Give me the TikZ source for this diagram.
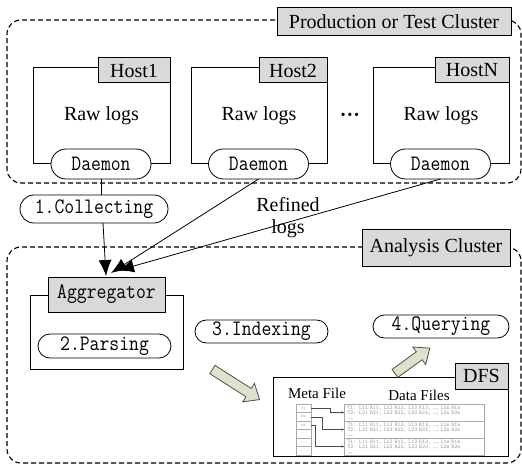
\documentclass[tikz,border=0pt]{standalone}
\usepackage{fontspec}
\usepackage{graphicx}
\setmainfont{Liberation Serif}
\usetikzlibrary{shapes.misc,shapes.arrows,arrows.meta,calc}
\definecolor{tagfill}{RGB}{217,217,217}
\definecolor{arrowfill}{RGB}{222,226,204}
\definecolor{arrowline}{RGB}{80,80,70}
\definecolor{insetline}{RGB}{170,170,170}
\definecolor{insettext}{RGB}{150,150,150}
% narrow, tall monospace used for process labels
\newcommand\mono[1]{\scalebox{0.87}[1]{\fontsize{22}{24}\selectfont\ttfamily #1}}
\begin{document}
\begin{tikzpicture}[x=1pt,y=-1pt,
  line width=0.8pt,
  every node/.style={inner sep=0pt, outer sep=0pt},
  cluster/.style={draw, dash pattern=on 5pt off 3pt, rounded corners=14pt, line width=1.1pt},
  tag/.style={draw, fill=tagfill, line width=1pt, font=\fontsize{20}{22}\selectfont},
  hostbox/.style={draw, fill=white, minimum width=136pt, minimum height=96pt},
  plain/.style={font=\fontsize{20}{22}\selectfont},
  pill/.style={draw, fill=white, rounded rectangle},
  feed/.style={-{Latex[length=16pt,width=13pt]}},
  fat/.style={single arrow, draw=arrowline, fill=arrowfill, line width=0.8pt,
    single arrow head extend=6pt, single arrow tip angle=80, inner ysep=4.5pt, inner xsep=0pt},
  cell/.style={draw=insetline, line width=0.4pt, minimum width=15pt, minimum height=8.5pt,
    font=\fontsize{3.5}{4}\selectfont\ttfamily, text=insettext},
  blk/.style={draw=insetline, line width=0.5pt, minimum height=17pt, inner xsep=3pt,
    text width=134pt, align=left, font=\fontsize{5.6}{5.2}\selectfont\ttfamily, text=insettext},
  link/.style={line width=0.5pt, draw=black!70, -{Latex[length=3pt,width=2.5pt]}}
]
\useasboundingbox (0,0) rectangle (522,465);

% ---------- production / test cluster ----------
\node[cluster, minimum width=514pt, minimum height=163pt] (prod) at (264,101.5) {};
\node[tag, minimum width=234pt, minimum height=28pt] (prodtag) at (394,22) {Production or Test Cluster};

\node[hostbox, minimum width=137pt] (h1) at (101.5,115) {};
\node[hostbox] (h2) at (259,115) {};
\node[hostbox] (hn) at (441,115) {};

\node[tag, minimum width=72pt, minimum height=25pt] (h1tag) at (134,70.5) {Host1};
\node[tag, minimum width=68pt, minimum height=25pt] (h2tag) at (293,70.5) {Host2};
\node[tag, minimum width=74pt, minimum height=25pt] (hntag) at (472,70.5) {HostN};

\node[plain] (r1) at (101.5,116) {Raw logs};
\node[plain] (r2) at (259,116) {Raw logs};
\node[plain] (rn) at (441,116) {Raw logs};
\node[font=\bfseries\fontsize{20}{22}\selectfont] (ellip) at (350,117) {···};

\node[pill, minimum width=100pt, minimum height=30pt] (d1) at (101,164) {\mono{Daemon}};
\node[pill, minimum width=100pt, minimum height=30pt] (d2) at (258.5,164) {\mono{Daemon}};
\node[pill, minimum width=100pt, minimum height=30pt] (dn) at (440.5,164) {\mono{Daemon}};

% ---------- collection ----------
\node[pill, minimum width=148pt, minimum height=28pt] (collect) at (94,209) {\mono{1.Collecting}};
\node[plain, align=center] (refined) at (288,218) {Refined\\logs};

% ---------- analysis cluster ----------
\node[cluster, minimum width=514pt, minimum height=216pt] (ana) at (264,355) {};
\node[tag, minimum width=148pt, minimum height=36pt] (anatag) at (436,248) {Analysis Cluster};

\node[draw, fill=white, minimum width=153pt, minimum height=74pt] (agg) at (106.5,332) {};
\node[tag, line width=0.8pt, minimum width=117pt, minimum height=35pt] (aggtag) at (106.5,294.5) {\mono{Aggregator}};
\node[pill, minimum width=133pt, minimum height=24pt] (parse) at (104.5,346) {\mono{2.Parsing}};
\node[pill, minimum width=133pt, minimum height=23pt] (index) at (261.5,331.5) {\mono{3.Indexing}};
\node[pill, minimum width=136pt, minimum height=23pt] (query) at (441,326.5) {\mono{4.Querying}};

% ---------- DFS ----------
\node[draw, fill=white, minimum width=235pt, minimum height=79pt] (dfs) at (390.5,416.5) {};
\node[tag, minimum width=53pt, minimum height=26pt] (dfstag) at (481.5,376) {DFS};
\node[font=\fontsize{15}{17}\selectfont] (meta) at (317,393) {Meta File};
\node[font=\fontsize{15}{17}\selectfont] (data) at (419,395) {Data Files};

% meta file index cells
\node[cell] (c1) at (303.5,408.25) {N1};
\node[cell] (c2) at (303.5,416.75) {N2};
\node[cell] (c3) at (303.5,425.25) {N3};
\node[cell] (c4) at (303.5,433.75) {\ldots};
\node[cell] (c5) at (303.5,442.25) {\ldots};
\node[cell] (c6) at (303.5,450.75) {\ldots};
% data file blocks
\newcommand\blocktext{T1: L11 R11, L12 R12, L13 R13, \ldots, L1n R1n\\
    T2: L21 R21, L22 R22, L23 R23, \ldots, L2n R2n\\\ldots\ldots}
\node[blk] (b1) at (414.5,412.5) {\blocktext};
\node[blk] (b2) at (414.5,429.5) {\blocktext};
\node[blk] (b3) at (414.5,446.5) {\blocktext};
\draw[link] (c1.east) -- ++(19,0) |- (b1.west);
\draw[link] (c2.east) -- ++(11,0) |- (b2.west);
\draw[link] (c3.east) -- ++(4,0) |- (b3.west);

% ---------- flow arrows ----------
\coordinate (tip1) at (106,276);
\coordinate (tip2) at (111,273);
\coordinate (tip3) at (118,270.5);
\draw (d1.south) -- (d1.south |- collect.north);
\draw[feed] ($(collect.south)+(9,0)$) -- (tip1);
\draw[feed] (d2.south) -- (tip2);
\draw[feed] (dn.south) -- (tip3);

\node[fat, minimum height=56pt, rotate=-32.5] (toDFS) at (233.5,383) {};
\node[fat, minimum height=43pt, rotate=36] (toQuery) at (410,362.5) {};
\end{tikzpicture}
\end{document}
